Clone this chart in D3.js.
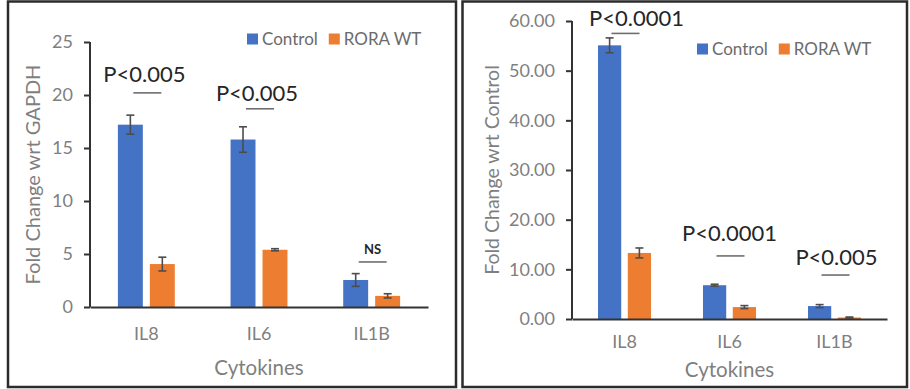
<!DOCTYPE html>
<html>
<head>
<meta charset="utf-8">
<script src="https://cdn.jsdelivr.net/npm/d3@7"></script>
<style>
  body { margin: 0; background: #fff; }
  svg { display: block; font-family: Lato, "Open Sans", sans-serif; }
</style>
</head>
<body>
<svg id="viz" width="910" height="389"></svg>
<script>
// shared
var categories = ["IL8", "IL6", "IL1B"];
var seriesNames = ["Control", "RORA WT"];
var seriesColors = ["#4472c4", "#ed7d31"];

// left panel: fold change wrt GAPDH
var gapdhControl = [17.2, 15.8, 2.55];
var gapdhControlErr = [0.9, 1.2, 0.6];
var gapdhRora = [4.05, 5.4, 1.05];
var gapdhRoraErr = [0.65, 0.1, 0.2];
var gapdhTicks = [0, 5, 10, 15, 20, 25];
var gapdhSigLabels = ["P<0.005", "P<0.005", "NS"];
var gapdhSigLine = [20.2, 18.7, 4.25];
var gapdhSigText = [21.2, 19.4, 5.0];

// right panel: fold change wrt Control
var ctrlControl = [55.1, 6.8, 2.6];
var ctrlControlErr = [1.5, 0.2, 0.3];
var ctrlRora = [13.3, 2.4, 0.3];
var ctrlRoraErr = [1.0, 0.3, 0.1];
var ctrlTicks = [0, 10, 20, 30, 40, 50, 60];
var ctrlSigLabels = ["P<0.0001", "P<0.0001", "P<0.005"];
var ctrlSigLine = [57.5, 12.7, 8.85];
var ctrlSigText = [58.95, 15.7, 10.9];

var svg = d3.select("#viz");

function drawPanel(p) {
	var g = svg.append("g");

	g.append("rect")
		.attr("x", p.box[0]).attr("y", p.box[1])
		.attr("width", p.box[2]).attr("height", p.box[3])
		.attr("fill", "none")
		.attr("stroke", "#2b2b2b")
		.attr("stroke-width", 2.5);

	var x0 = d3.scaleBand()
		.domain(categories)
		.range([p.left, p.right])
		.paddingInner(0.495)
		.paddingOuter(0.2475);
	var x1 = d3.scaleBand()
		.domain(seriesNames)
		.range([0, x0.bandwidth()])
		.paddingInner(0.22);
	var y = d3.scaleLinear()
		.domain([0, d3.max(p.ticks)])
		.range([p.bottom, p.top]);
	var full = d3.scaleBand().domain(categories).range([p.left, p.right]);

	var rows = categories.map(function(c, i) {
		return {cat: c, vals: [
			{s: seriesNames[0], v: p.control[i], e: p.controlErr[i]},
			{s: seriesNames[1], v: p.rora[i], e: p.roraErr[i]}
		]};
	});

	var groups = g.append("g").selectAll("g")
		.data(rows)
		.enter().append("g")
		.attr("transform", function(d) { return "translate(" + x0(d.cat) + ",0)"; });

	groups.selectAll("rect")
		.data(function(d) { return d.vals; })
		.enter().append("rect")
		.attr("x", function(d) { return x1(d.s); })
		.attr("y", function(d) { return y(d.v); })
		.attr("width", x1.bandwidth())
		.attr("height", function(d) { return p.bottom - y(d.v); })
		.attr("fill", function(d, i) { return seriesColors[i]; });

	// error bars
	var eb = groups.selectAll("g.err")
		.data(function(d) { return d.vals; })
		.enter().append("g")
		.attr("class", "err")
		.attr("stroke", "#4d4d4d")
		.attr("stroke-width", 1.6);
	eb.append("line")
		.attr("x1", function(d) { return x1(d.s) + x1.bandwidth() / 2; })
		.attr("x2", function(d) { return x1(d.s) + x1.bandwidth() / 2; })
		.attr("y1", function(d) { return y(d.v + d.e); })
		.attr("y2", function(d) { return y(Math.max(0, d.v - d.e)); });
	eb.selectAll("line.cap")
		.data(function(d) { return [d.v + d.e, Math.max(0, d.v - d.e)].map(function(v) { return {s: d.s, v: v}; }); })
		.enter().append("line")
		.attr("class", "cap")
		.attr("x1", function(d) { return x1(d.s) + x1.bandwidth() / 2 - 4; })
		.attr("x2", function(d) { return x1(d.s) + x1.bandwidth() / 2 + 4; })
		.attr("y1", function(d) { return y(d.v); })
		.attr("y2", function(d) { return y(d.v); });

	// axes
	var yAxis = g.append("g")
		.attr("transform", "translate(" + p.left + ",0)")
		.call(d3.axisLeft(y).tickValues(p.ticks).tickFormat(p.fmt).tickSize(6).tickPadding(11));
	var xAxis = g.append("g")
		.attr("transform", "translate(0," + p.bottom + ")")
		.call(d3.axisBottom(full).tickSize(0).tickPadding(p.xPad));
	yAxis.selectAll("path, line").attr("stroke", "#333").attr("stroke-width", 2);
	xAxis.select("path").attr("stroke", "#333").attr("stroke-width", 2);
	yAxis.select("path").remove();
	yAxis.append("line").attr("x1", 0).attr("x2", 0).attr("y1", p.top).attr("y2", p.bottom)
		.attr("stroke", "#333").attr("stroke-width", 2);
	g.selectAll(".tick text")
		.attr("fill", "#7f7f7f")
		.style("font-size", "18px")
		.style("font-family", "Lato, sans-serif");

	// titles
	g.append("text")
		.attr("transform", "translate(" + p.yTitleX + "," + ((p.top + p.bottom) / 2) + ") rotate(-90)")
		.attr("text-anchor", "middle")
		.attr("dy", "0.35em")
		.attr("fill", "#7f7f7f")
		.style("font-size", p.yTitleSize)
		.text(p.yTitle);
	g.append("text")
		.attr("x", (p.left + p.right) / 2)
		.attr("y", p.xTitleY)
		.attr("text-anchor", "middle")
		.attr("dy", "0.35em")
		.attr("fill", "#7f7f7f")
		.style("font-size", "20.5px")
		.text("Cytokines");

	// significance annotations
	var sig = g.append("g").selectAll("g")
		.data(categories)
		.enter().append("g");
	sig.append("line")
		.attr("x1", function(c) { return full(c) + full.bandwidth() / 2 - 14 + 1; })
		.attr("x2", function(c) { return full(c) + full.bandwidth() / 2 + 14 + 1; })
		.attr("y1", function(c, i) { return y(p.sigLine[i]); })
		.attr("y2", function(c, i) { return y(p.sigLine[i]); })
		.attr("stroke", "#6e6e6e")
		.attr("stroke-width", 1.6);
	sig.append("text")
		.attr("x", function(c, i) { return full(c) + full.bandwidth() / 2 + p.sigDx[i]; })
		.attr("y", function(c, i) { return y(p.sigText[i]); })
		.attr("text-anchor", "middle")
		.attr("fill", "#262626")
		.style("font-size", function(c, i) { return p.sigLabels[i] === "NS" ? "13px" : "22px"; })
		.style("font-weight", function(c, i) { return p.sigLabels[i] === "NS" ? "bold" : "normal"; })
		.text(function(c, i) { return p.sigLabels[i]; });

	// legend
	var lx = p.legend[0];
	seriesNames.forEach(function(s, i) {
		g.append("rect")
			.attr("x", lx).attr("y", p.legend[1] - 5.5)
			.attr("width", 11).attr("height", 11)
			.attr("fill", seriesColors[i]);
		var t = g.append("text")
			.attr("x", lx + 15)
			.attr("y", p.legend[1])
			.attr("dy", "0.35em")
			.attr("fill", "#6b6b6b")
			.style("font-size", "17px")
			.text(s);
		lx += 15 + t.node().getComputedTextLength() + 11;
	});
}

drawPanel({
	box: [8, 1.5, 448, 385.5],
	left: 90, right: 428, top: 42, bottom: 307,
	ticks: gapdhTicks, fmt: d3.format("d"),
	control: gapdhControl, controlErr: gapdhControlErr,
	rora: gapdhRora, roraErr: gapdhRoraErr,
	sigLabels: gapdhSigLabels, sigLine: gapdhSigLine, sigText: gapdhSigText,
	sigDx: [-2, -2, 1],
	xPad: 20, yTitle: "Fold Change wrt GAPDH", yTitleX: 33, yTitleSize: "20px", xTitleY: 368,
	legend: [247, 39]
});

drawPanel({
	box: [462.5, 1.5, 444.5, 385.5],
	left: 572, right: 887, top: 21, bottom: 319,
	ticks: ctrlTicks, fmt: d3.format(".2f"),
	control: ctrlControl, controlErr: ctrlControlErr,
	rora: ctrlRora, roraErr: ctrlRoraErr,
	sigLabels: ctrlSigLabels, sigLine: ctrlSigLine, sigText: ctrlSigText,
	sigDx: [12, 0, 2],
	xPad: 16, yTitle: "Fold Change wrt Control", yTitleX: 492, yTitleSize: "19.5px", xTitleY: 370,
	legend: [697, 49]
});
</script>
</body>
</html>
